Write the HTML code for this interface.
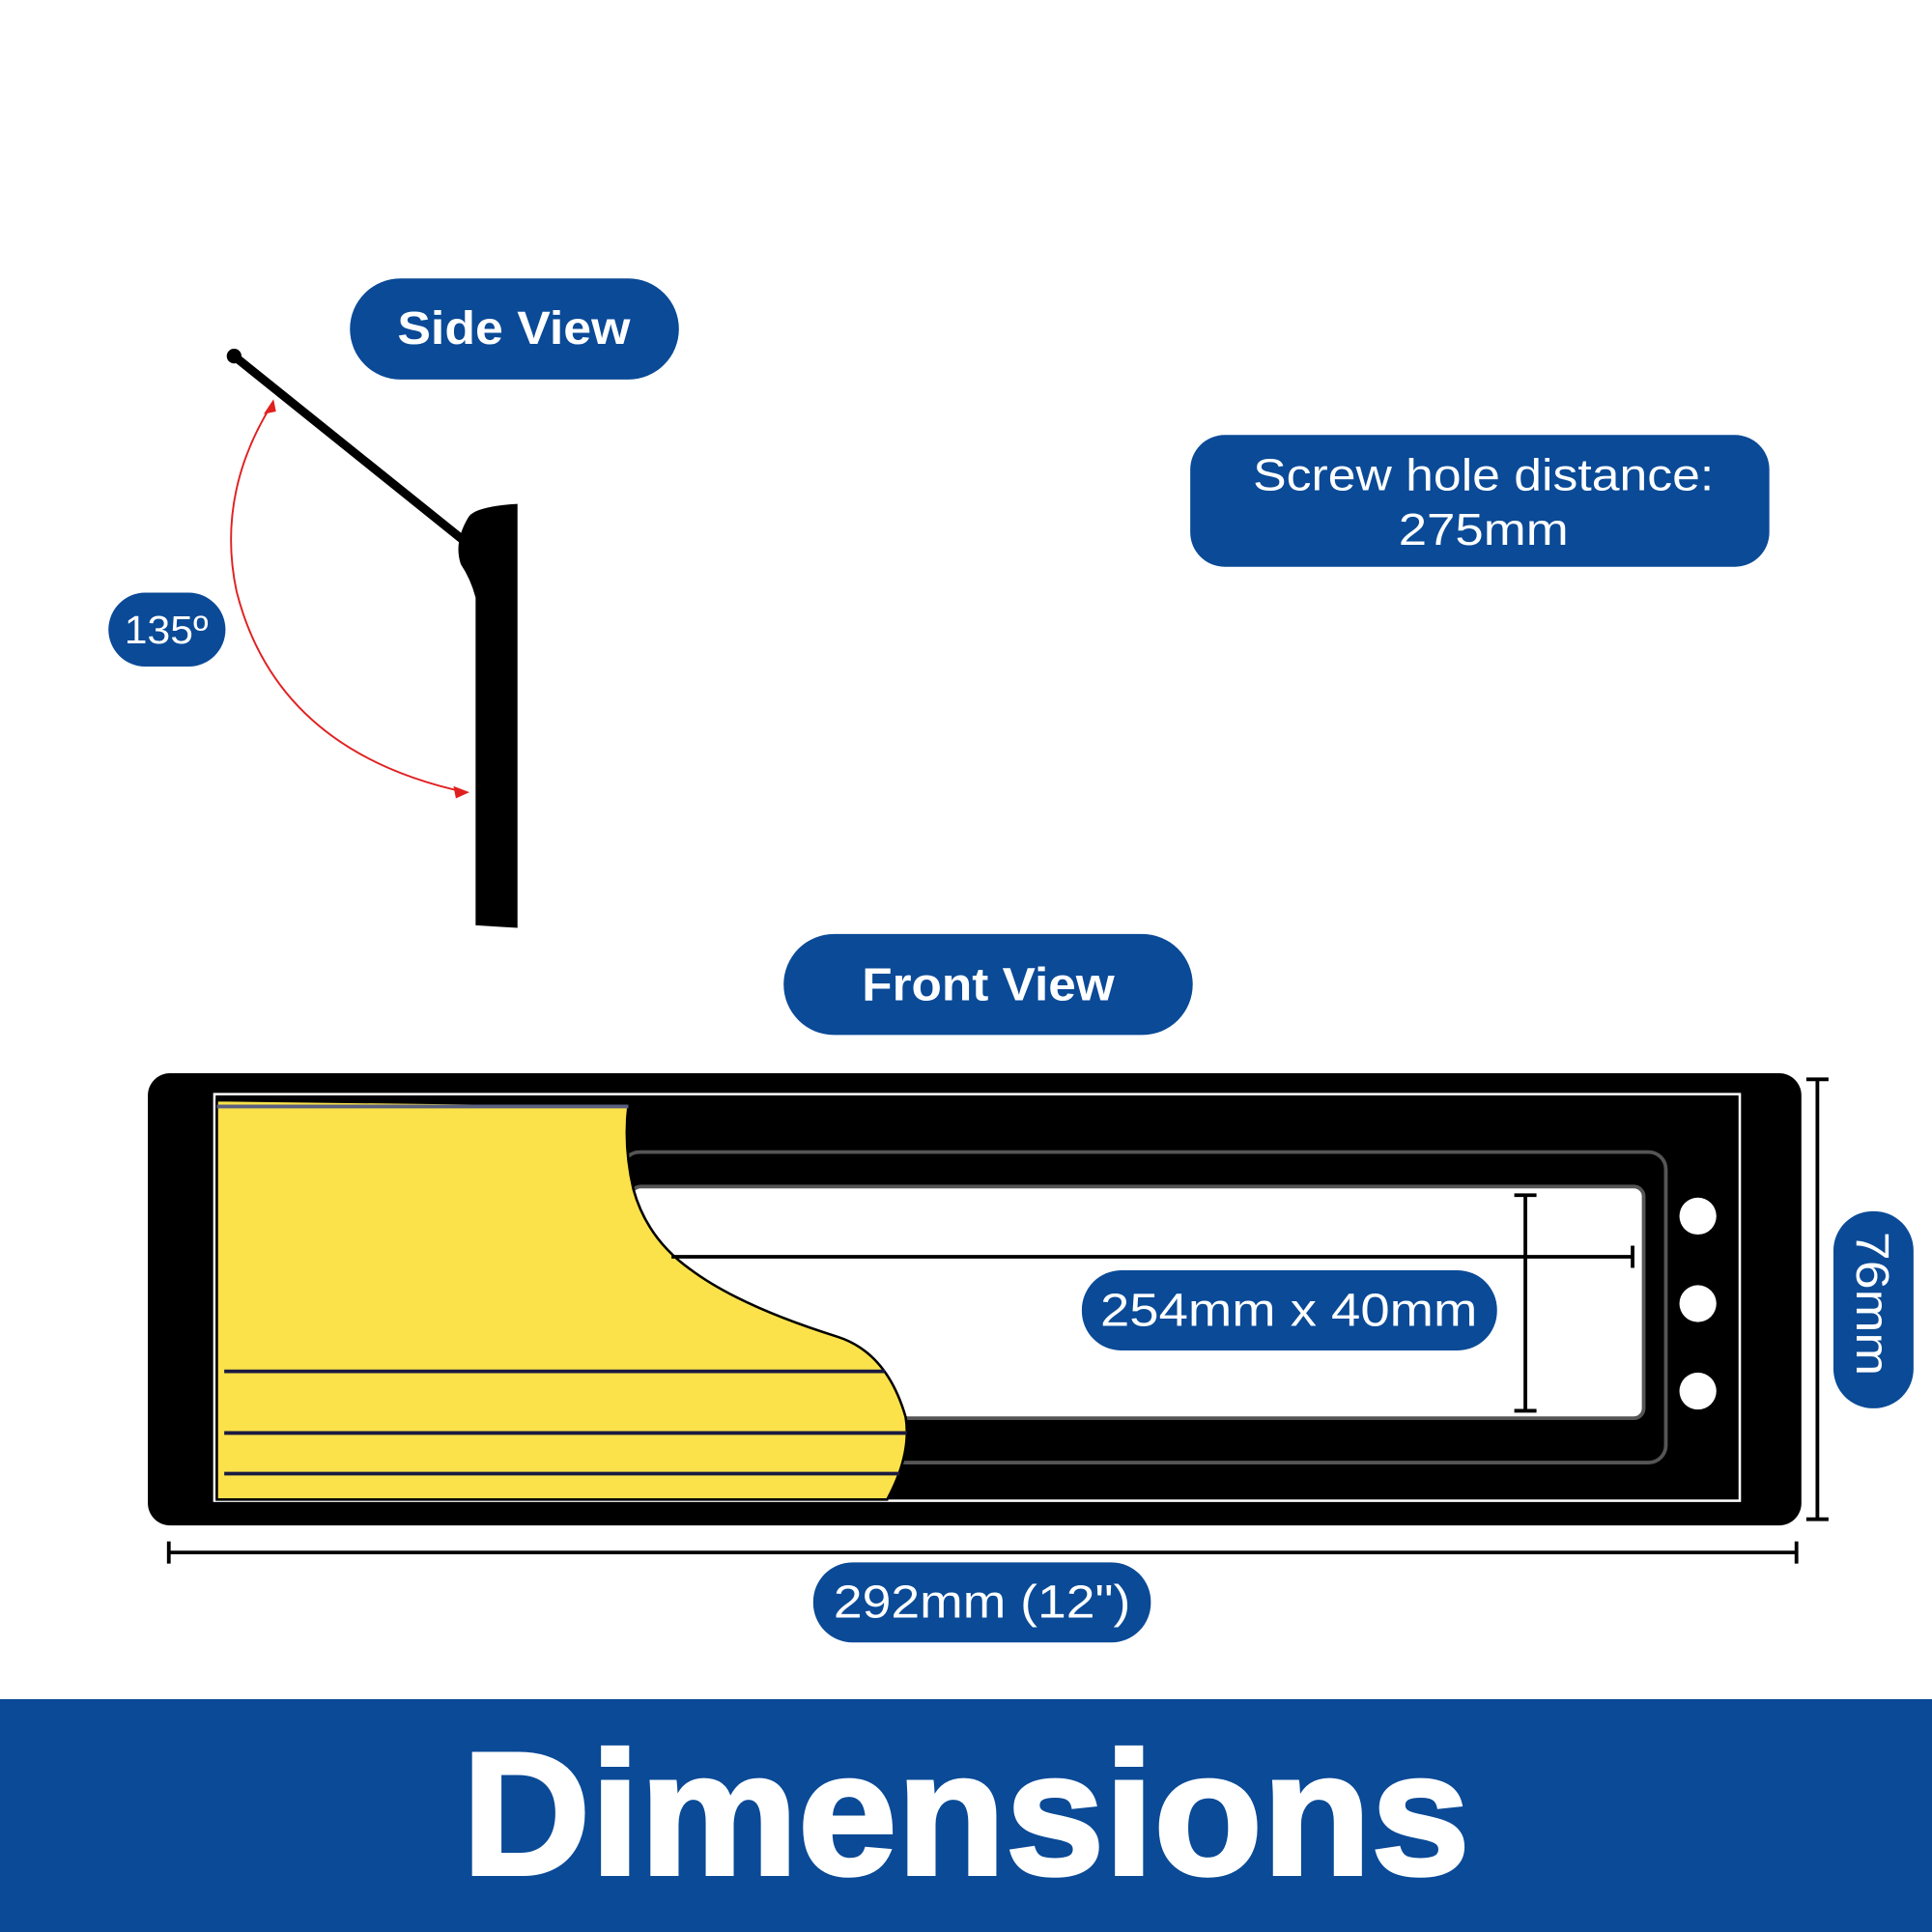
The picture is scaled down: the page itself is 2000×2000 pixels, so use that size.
<!DOCTYPE html>
<html><head><style>
html,body{margin:0;padding:0;background:#fff;}
svg{display:block}
text{font-family:"Liberation Sans",sans-serif;fill:#fff}
</style></head><body>
<svg width="2000" height="2000" viewBox="0 0 1568 1568" xmlns="http://www.w3.org/2000/svg">
<rect width="1568" height="1568" fill="#fff"/>
<!-- Side view -->
<rect x="284" y="226" width="267" height="82" rx="41" fill="#0a4a97"/>
<text x="417" y="279" font-size="38" font-weight="bold" text-anchor="middle" textLength="189" lengthAdjust="spacingAndGlyphs">Side View</text>
<line x1="190" y1="289" x2="378" y2="440" stroke="#000" stroke-width="7"/>
<circle cx="190" cy="289" r="6" fill="#000"/>
<path d="M380 420 Q385 411 420 409 L420 753 L386 751 L386 485 Q382 470 374 458 Q368 440 380 420Z" fill="#000"/>
<path d="M222 326 Q175 400 192 480 Q225 610 378 643" fill="none" stroke="#e02020" stroke-width="1.5"/>
<path d="M222 324 L214 336 L224 334Z" fill="#e02020"/>
<path d="M381 643 L368 638 L370 648Z" fill="#e02020"/>
<rect x="88" y="481" width="95" height="60" rx="30" fill="#0a4a97"/>
<text x="135" y="522" font-size="32" text-anchor="middle" textLength="68" lengthAdjust="spacingAndGlyphs">135º</text>
<!-- Screw -->
<rect x="966" y="353" width="470" height="107" rx="28" fill="#0a4a97"/>
<text x="1204" y="398" font-size="36" text-anchor="middle" textLength="374" lengthAdjust="spacingAndGlyphs">Screw hole distance:</text>
<text x="1204" y="442" font-size="36" text-anchor="middle" textLength="138" lengthAdjust="spacingAndGlyphs">275mm</text>
<!-- Front view -->
<rect x="636" y="758" width="332" height="82" rx="41" fill="#0a4a97"/>
<text x="802" y="812" font-size="38" font-weight="bold" text-anchor="middle" textLength="205" lengthAdjust="spacingAndGlyphs">Front View</text>
<rect x="120" y="871" width="1342" height="367" rx="18" fill="#000"/>
<rect x="174" y="888" width="1238" height="330" fill="none" stroke="#fff" stroke-width="2"/>
<rect x="505" y="935" width="847" height="252" rx="14" fill="none" stroke="#555" stroke-width="3"/>
<rect x="512" y="963" width="822" height="188" rx="8" fill="#fff" stroke="#555" stroke-width="3"/>
<path d="M176 893 L510 897 Q506 930 514 965 Q525 1005 560 1030 Q600 1060 680 1085 Q720 1098 735 1150 Q740 1180 720 1217 L176 1217Z" fill="#fbe24a" stroke="#000" stroke-width="2"/>
<line x1="182" y1="1113" x2="718" y2="1113" stroke="#1a1a40" stroke-width="3"/>
<line x1="182" y1="1163" x2="736" y2="1163" stroke="#1a1a40" stroke-width="3"/>
<line x1="182" y1="1196" x2="730" y2="1196" stroke="#1a1a40" stroke-width="3"/>
<line x1="176" y1="898" x2="510" y2="898" stroke="#5a6080" stroke-width="3"/>
<line x1="545" y1="1020" x2="1325" y2="1020" stroke="#000" stroke-width="3"/>
<line x1="1325" y1="1011" x2="1325" y2="1029" stroke="#000" stroke-width="3"/>
<line x1="1238" y1="970" x2="1238" y2="1145" stroke="#000" stroke-width="3"/>
<line x1="1229" y1="970" x2="1247" y2="970" stroke="#000" stroke-width="3"/>
<line x1="1229" y1="1145" x2="1247" y2="1145" stroke="#000" stroke-width="3"/>
<circle cx="1378" cy="987" r="15" fill="#fff"/>
<circle cx="1378" cy="1058" r="15" fill="#fff"/>
<circle cx="1378" cy="1129" r="15" fill="#fff"/>
<rect x="878" y="1031" width="337" height="65" rx="32" fill="#0a4a97"/>
<text x="1046" y="1076" font-size="38" text-anchor="middle" textLength="306" lengthAdjust="spacingAndGlyphs">254mm x 40mm</text>
<!-- 76mm -->
<line x1="1475" y1="876" x2="1475" y2="1233" stroke="#000" stroke-width="3"/>
<line x1="1466" y1="876" x2="1484" y2="876" stroke="#000" stroke-width="3"/>
<line x1="1466" y1="1233" x2="1484" y2="1233" stroke="#000" stroke-width="3"/>
<rect x="1488" y="983" width="65" height="160" rx="32" fill="#0a4a97"/>
<text x="0" y="0" font-size="38" text-anchor="middle" transform="translate(1507,1058) rotate(90)" textLength="117" lengthAdjust="spacingAndGlyphs">76mm</text>
<!-- 292 -->
<line x1="137" y1="1260" x2="1458" y2="1260" stroke="#000" stroke-width="3"/>
<line x1="137" y1="1251" x2="137" y2="1269" stroke="#000" stroke-width="3"/>
<line x1="1458" y1="1251" x2="1458" y2="1269" stroke="#000" stroke-width="3"/>
<rect x="660" y="1268" width="274" height="65" rx="32" fill="#0a4a97"/>
<text x="797" y="1313" font-size="38" text-anchor="middle" textLength="241" lengthAdjust="spacingAndGlyphs">292mm (12")</text>
<!-- footer -->
<rect x="0" y="1379" width="1568" height="189" fill="#0a4a97"/>
<text x="784" y="1521" font-size="142" font-weight="bold" text-anchor="middle" textLength="818" lengthAdjust="spacingAndGlyphs" stroke="#fff" stroke-width="3">Dimensions</text>
</svg>
</body></html>
